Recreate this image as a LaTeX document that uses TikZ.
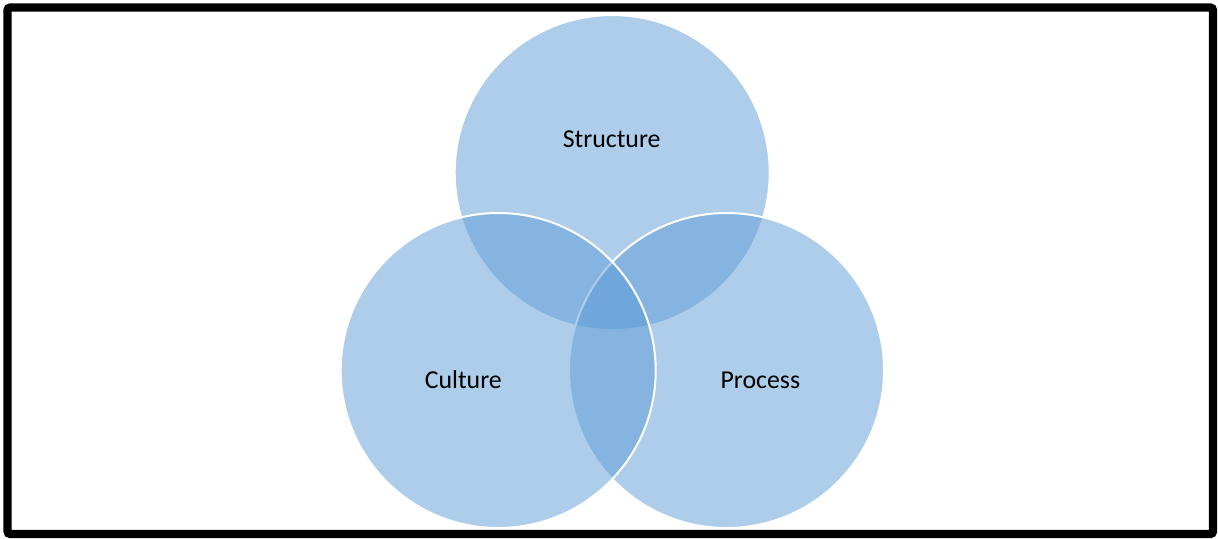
\documentclass[tikz,border=0pt]{standalone}
\usepackage{fontspec}
\setmainfont{Carlito}
\usepackage{tikz}
\definecolor{setblue}{RGB}{91,155,213}

\begin{document}
\begin{tikzpicture}[x=0.1mm,y=-0.1mm,
  set/.style={circle,inner sep=0pt,minimum size=31.5mm,fill=setblue,fill opacity=0.5,draw=white,draw opacity=1,line width=0.2mm},
  lbl/.style={font=\fontsize{7.35}{9}\selectfont,text=black,inner sep=0pt}]
\useasboundingbox (0,0) rectangle (1218,538);

\node[set] (struct) at (612.2,172.5) {};
\node[set] (proc) at (726.5,370.5) {};
\node[set] (cult) at (498.2,370.5) {};

\node[lbl] (structtxt) at (611.7,139) {Structure};
\node[lbl] (culttxt) at (463.3,380) {Culture};
\node[lbl] (proctxt) at (760.3,380) {Process};

\draw[line width=0.84mm,rounded corners=0.3mm] (7.5,7.5) rectangle (1213,534);

\end{tikzpicture}
\end{document}
